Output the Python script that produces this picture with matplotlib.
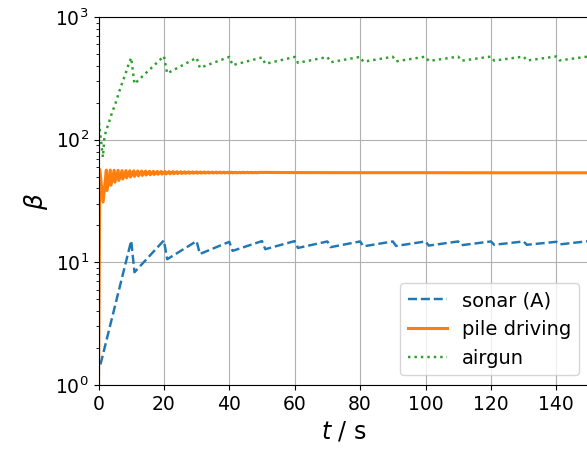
import numpy as np
import matplotlib
matplotlib.use("Agg")
import matplotlib.pyplot as plt

# sonar (A): start, then peak just before each ping and trough just after it
sonar_start = (0.6, 1.47)
sonar_peak_t = [10, 20, 30, 40, 50, 60, 70, 80, 90, 100, 110, 120, 130, 140, 150]
sonar_peak = [15.0, 15.1, 14.9, 14.7, 14.9, 14.9, 14.8, 14.8, 14.8, 14.8, 14.8, 14.8, 14.8, 14.7, 14.9]
sonar_trough_t = [11, 21, 31, 41, 51, 61, 71, 81, 91, 101, 111, 121, 131, 141]
sonar_trough = [8.3, 10.6, 11.7, 12.4, 12.8, 13.1, 13.3, 13.5, 13.6, 13.7, 13.8, 13.9, 13.9, 14.0]

# pile driving: strikes every 1.2 s
pile_period = 1.2
pile_start_t = [0.0, 0.4]
pile_start = [1.0, 57.0]
pile_trough = [31.0, 38.5, 42.5, 45.0, 46.5, 47.8, 48.8, 49.6, 50.2, 50.7,
               51.1, 51.5, 51.8, 52.0, 52.2, 52.4, 52.6, 52.7, 52.8, 52.9,
               53.0, 53.1, 53.2, 53.25, 53.3, 53.35, 53.4, 53.45, 53.5, 53.5,
               53.55, 53.55, 53.6, 53.6, 53.6, 53.65, 53.65, 53.7, 53.7, 53.7]
pile_peak = [56.5, 56.5, 56.3, 56.2, 56.0, 55.9, 55.8, 55.7, 55.6, 55.5,
             55.4, 55.3, 55.2, 55.1, 55.0, 55.0, 54.9, 54.9, 54.8, 54.8,
             54.7, 54.7, 54.6, 54.6, 54.5, 54.5, 54.5, 54.4, 54.4, 54.4,
             54.3, 54.3, 54.3, 54.2, 54.2, 54.2, 54.2, 54.1, 54.1, 54.1]
pile_tail_t = [60, 80, 100, 120, 150]
pile_tail = [53.9, 53.8, 53.8, 53.7, 53.7]

# airgun: first shot, then the build-up to the 10 s shot
airgun_first_t = [0.0, 0.1, 1.35, 1.8, 2.3, 2.9, 3.5, 4.1, 4.8, 5.45, 6.06, 6.67, 7.28, 8.0, 8.6, 9.2]
airgun_first = [1.0, 140, 72, 104, 118, 131, 147, 165, 185, 207, 234, 262, 292, 330, 366, 413]
airgun_peak_t = [10, 20, 30, 40, 50, 60, 70, 80, 90, 100, 110, 120, 130, 140, 150]
airgun_peak = [465, 480, 465, 473, 468, 473, 472, 473, 474, 475, 475, 476, 476, 477, 477]
airgun_trough_t = [11, 21, 31, 41, 51, 61, 71, 81, 91, 101, 111, 121, 131, 141]
airgun_trough = [285, 347, 385, 405, 415, 423, 428, 432, 435, 438, 440, 441, 442, 443]


def interleave(peak_t, peak, trough_t, trough):
    t, b = [], []
    for i in range(len(peak_t)):
        t.append(peak_t[i])
        b.append(peak[i])
        if i < len(trough_t):
            t.append(trough_t[i])
            b.append(trough[i])
    return t, b


def main():
    t_sonar, b_sonar = interleave(sonar_peak_t, sonar_peak, sonar_trough_t, sonar_trough)
    t_sonar = [sonar_start[0]] + t_sonar
    b_sonar = [sonar_start[1]] + b_sonar

    t_pile, b_pile = list(pile_start_t), list(pile_start)
    for k in range(len(pile_trough)):
        t_pile += [pile_period * (k + 1) + 0.2, pile_period * (k + 2)]
        b_pile += [pile_trough[k], pile_peak[k]]
    t_pile += pile_tail_t
    b_pile += pile_tail

    t_air, b_air = interleave(airgun_peak_t, airgun_peak, airgun_trough_t, airgun_trough)
    t_air = airgun_first_t + t_air
    b_air = airgun_first + b_air

    fig = plt.figure(figsize=(5.87, 4.49), dpi=100)
    ax = fig.add_axes([98.5 / 587, 64 / 449, 490.5 / 587, 368 / 449])

    ax.plot(t_sonar, b_sonar, "--", color="tab:blue", lw=1.75, label="sonar (A)")
    ax.plot(t_pile, b_pile, "-", color="tab:orange", lw=2.2, label="pile driving")
    ax.plot(t_air, b_air, ":", color="tab:green", lw=1.75, label="airgun")

    ax.set_yscale("log")
    ax.set_xlim(0, 150)
    ax.set_ylim(1, 1000)
    ax.set_xticks(np.arange(0, 141, 20))
    ax.grid(True, which="major", color="#b0b0b0", lw=0.8)
    ax.tick_params(labelsize=13.5)
    ax.set_xlabel("$t$ / s", fontsize=17)
    ax.set_ylabel(r"$\beta$", fontsize=18)
    ax.legend(loc="lower right", fontsize=14)

    fig.savefig("out.png", dpi=100)


if __name__ == "__main__":
    main()
